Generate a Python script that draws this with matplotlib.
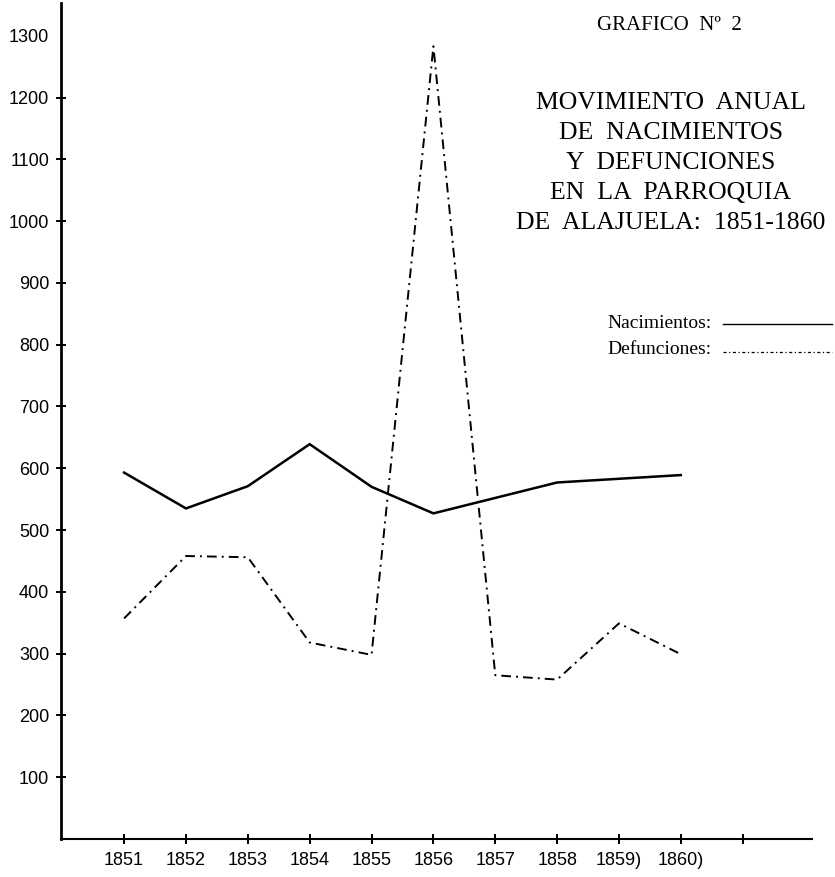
import matplotlib.pyplot as plt
from matplotlib.lines import Line2D

years = [1851, 1852, 1853, 1854, 1855, 1856, 1857, 1858, 1859, 1860]
nacimientos = [593, 535, 571, 639, 570, 527, 552, 577, 583, 589]
defunciones = [357, 458, 456, 318, 298, 1283, 265, 258, 349, 299]

x_ticks = [1851, 1852, 1853, 1854, 1855, 1856, 1857, 1858, 1859, 1860, 1861]
x_labels = ["1851", "1852", "1853", "1854", "1855", "1856", "1857", "1858",
            "1859)", "1860)", ""]
y_ticks = list(range(100, 1301, 100))

title_lines = ["MOVIMIENTO  ANUAL", "DE  NACIMIENTOS", "Y  DEFUNCIONES",
               "EN  LA  PARROQUIA", "DE  ALAJUELA:  1851-1860"]

W, H = 835, 877
fig = plt.figure(figsize=(W / 100, H / 100), dpi=100)
ax = fig.add_axes([61 / W, 1 - 839 / H, (812 - 61) / W, (839 - 3) / H])

ax.plot(years, nacimientos, color="black", lw=1.8, solid_joinstyle="miter")
ax.plot(years, defunciones, color="black", lw=1.4,
        linestyle=(0, (5, 2.6, 1, 2.6)))

ax.set_xlim(1849.98, 1862.12)
ax.set_ylim(0, 1353)

for side in ["top", "right"]:
    ax.spines[side].set_visible(False)
ax.spines["left"].set_linewidth(2.0)
ax.spines["bottom"].set_linewidth(1.5)

ax.set_xticks(x_ticks)
ax.set_xticklabels(x_labels, family="Liberation Sans", fontsize=13)
ax.set_yticks(y_ticks)
ax.set_yticklabels([str(v) for v in y_ticks], family="Liberation Sans", fontsize=13)
ax.tick_params(axis="both", direction="inout", length=7, width=1.4)
ax.tick_params(axis="y", pad=5)
ax.tick_params(axis="x", pad=6)
ax.yaxis.get_major_ticks()[-1].tick1line.set_visible(False)

serif = "Liberation Serif"
fig.text(669 / W, 1 - 25 / H, "GRAFICO  Nº  2", family=serif, fontsize=15,
         ha="center", va="center")
for i, line in enumerate(title_lines):
    fig.text(671 / W, 1 - (103 + 30 * i) / H, line, family=serif, fontsize=18.5,
             ha="center", va="center")

# legend
fig.text(712 / W, 1 - 323 / H, "Nacimientos:", family=serif, fontsize=14,
         ha="right", va="center")
fig.text(712 / W, 1 - 350 / H, "Defunciones:", family=serif, fontsize=14,
         ha="right", va="center")
fig.add_artist(Line2D([723 / W, 832 / W], [1 - 324 / H, 1 - 324 / H],
                      color="black", lw=1.0))
fig.add_artist(Line2D([723 / W, 832 / W], [1 - 352 / H, 1 - 352 / H],
                      color="black", lw=0.9, linestyle=(0, (2.5, 2, 1, 2))))

fig.savefig("out.png", dpi=100)
